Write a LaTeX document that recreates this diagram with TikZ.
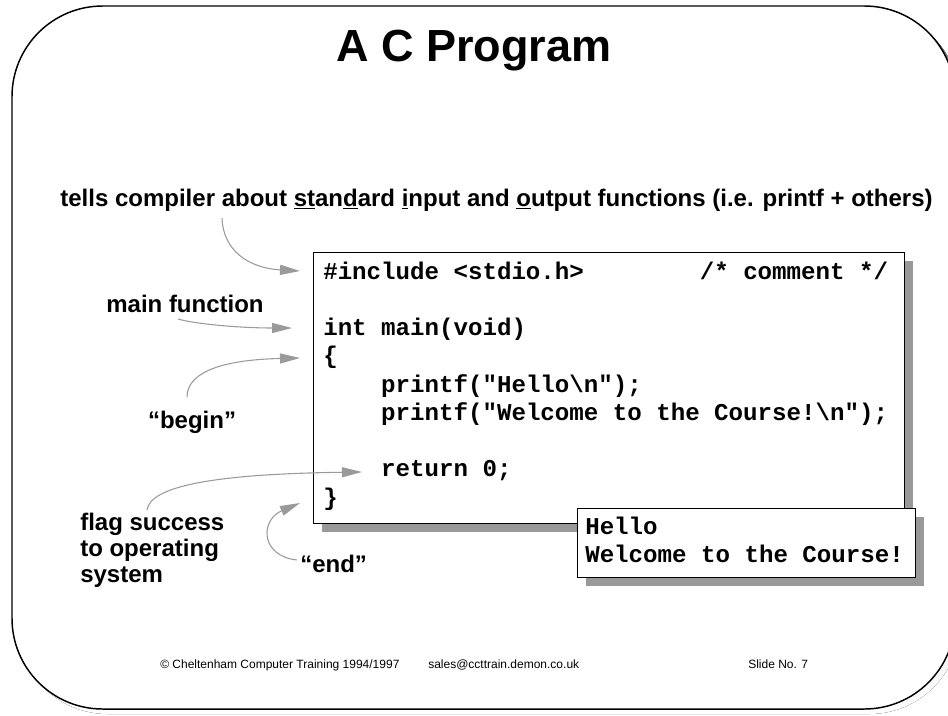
\documentclass[tikz,border=0pt]{standalone}
\usepackage{fontspec}
\setmainfont{Liberation Sans}
\newfontfamily\codefont{Liberation Mono}
\usetikzlibrary{arrows.meta,shadows}
\definecolor{shade}{HTML}{999999}
\definecolor{arrowgray}{HTML}{9A9A9A}
\begin{document}
\begin{tikzpicture}[x=0.75pt,y=-0.75pt,
  lbl/.style={font=\fontsize{18pt}{20pt}\selectfont\bfseries, inner sep=0pt},
  codeline/.style={font=\fontsize{18.1pt}{21pt}\selectfont\codefont\bfseries, inner sep=0pt, anchor=base west},
  foot/.style={font=\fontsize{9pt}{11pt}\selectfont, inner sep=0pt, anchor=base west},
  pointer/.style={draw=arrowgray, line width=0.8pt, -{Triangle[length=15pt,width=7.5pt]}},
  codebox/.style={draw, line width=1pt, fill=white, inner sep=0pt, anchor=north west,
    drop shadow={shadow xshift=6.5pt, shadow yshift=-6.5pt, fill=shade, opacity=1}}
]
\useasboundingbox (0,0) rectangle (948,715);
\clip (0,0) rectangle (948,715);
% slide frame
\fill[shade, rounded corners=68pt] (17,11) rectangle (960,714);
\draw[fill=white, line width=1.1pt, rounded corners=68pt] (12,6) rectangle (955,709);

% title
\node[font=\fontsize{33.75pt}{40pt}\selectfont\bfseries, inner sep=0pt, anchor=base] (title) at (474,61) {A C Program};

% top explanation
\node[lbl, anchor=base] (tells) at (496.5,206) {tells compiler about \underline{st}an\underline{d}ard \underline{i}nput and \underline{o}utput functions (i.e. printf + others)};

% code box
\node[codebox, minimum width=443.25pt, minimum height=203.25pt] (code) at (313,252) {};
\node[codeline] (c1) at (323,279) {\#include~<stdio.h>~~~~~~~~/*~comment~*/};
\node[codeline] (c3) at (323,335.5) {int~main(void)};
\node[codeline] (c4) at (323,363.75) {\{};
\node[codeline] (c5) at (323,392) {~~~~printf("Hello\textbackslash n");};
\node[codeline] (c6) at (323,420.25) {~~~~printf("Welcome~to~the~Course!\textbackslash n");};
\node[codeline] (c8) at (323,476.75) {~~~~return~0;};
\node[codeline] (c9) at (323,505) {\}};

% output box
\node[codebox, minimum width=253.75pt, minimum height=51.75pt] (out) at (576.7,507.7) {};
\node[codeline] (o1) at (585,534) {Hello};
\node[codeline] (o2) at (585,562.5) {Welcome~to~the~Course!};

% labels
\node[lbl, anchor=base] (mainf) at (185,312) {main function};
\node[lbl, anchor=base] (begin) at (192,428) {“begin”};
\node[lbl, anchor=base west] (flag1) at (80,530) {flag success};
\node[lbl, anchor=base west] (flag2) at (80,556) {to operating};
\node[lbl, anchor=base west] (flag3) at (80,582) {system};
\node[lbl, anchor=base west] (endl) at (300,572) {“end”};

% arrow end points
\coordinate (s1) at (222,218);
\coordinate (t1) at (300,271);
\coordinate (s2) at (178,319);
\coordinate (t2) at (292,328);
\coordinate (s3) at (187,397);
\coordinate (t3) at (300,358);
\coordinate (s4) at (147,510);
\coordinate (t4) at (362,472);
\coordinate (s5) at (297,560);
\coordinate (t5) at (300,503);

\draw[pointer] (s1) .. controls (223,250) and (248,268) .. (t1);
\draw[pointer] (s2) .. controls (195,324) and (240,328) .. (t2);
\draw[pointer] (s3) .. controls (187,375) and (215,360) .. (t3);
\draw[pointer] (s4) .. controls (150,487) and (210,474) .. (t4);
\draw[pointer] (s5) .. controls (260,556) and (260,520) .. (t5);

% footer
\node[foot] (f1) at (160,668) {© Cheltenham Computer Training 1994/1997};
\node[foot] (f2) at (428,668) {sales@ccttrain.demon.co.uk};
\node[foot] (f3) at (748,668) {Slide No. 7};
\end{tikzpicture}
\end{document}
